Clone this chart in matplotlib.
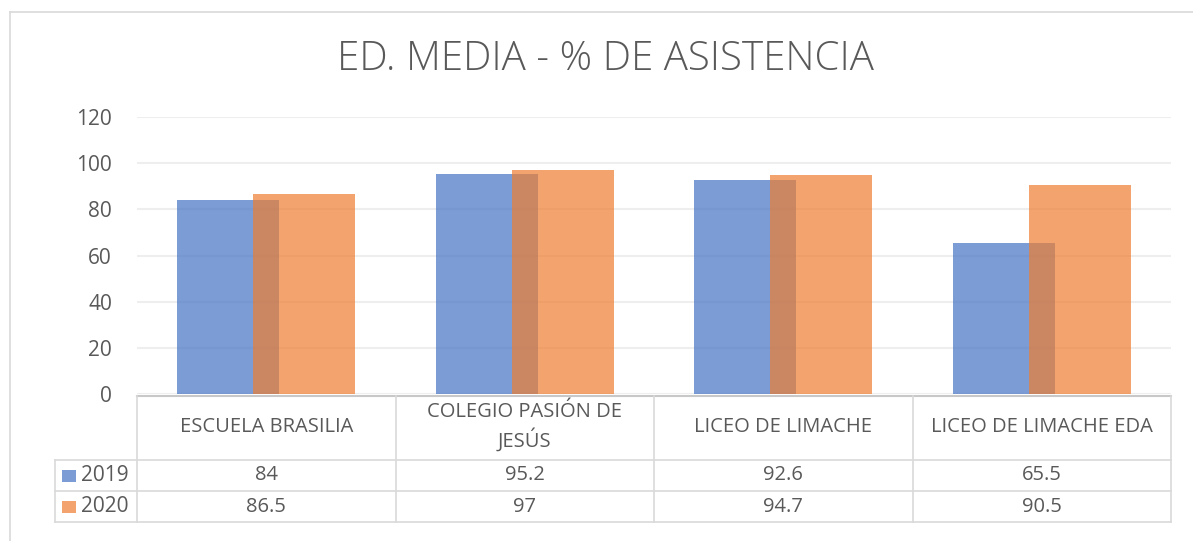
import matplotlib.pyplot as plt
from matplotlib.lines import Line2D
from matplotlib.patches import Rectangle
import numpy as np

# Dati
categorie = ["ESCUELA BRASILIA", "COLEGIO PASIÓN DE\nJESÚS", "LICEO DE LIMACHE", "LICEO DE LIMACHE EDA"]
anni = ["2019", "2020"]
valori_2019 = [84, 95.2, 92.6, 65.5]
valori_2020 = [86.5, 97, 94.7, 90.5]
etichette_2019 = ["84", "95.2", "92.6", "65.5"]
etichette_2020 = ["86.5", "97", "94.7", "90.5"]
yticks = [0, 20, 40, 60, 80, 100, 120]

W, H = 1193, 541
plt.rcParams['font.family'] = ['Open Sans', 'DejaVu Sans']
fig = plt.figure(figsize=(W / 100, H / 100), dpi=100)

testo = '#595959'
griglia = '#EEEEEE'
linea_tab = '#D9D9D9'
blu = '#4472C4'
arancio = '#ED7D31'

# pixel -> coordinate figura
def fx(x):
    return x / W

def fy(y):
    return 1 - y / H

# cornice esterna
fig.add_artist(Line2D([fx(10), fx(1193)], [fy(12), fy(12)], color='#D9D9D9', lw=1.2))
fig.add_artist(Line2D([fx(10), fx(10)], [fy(12), fy(541)], color='#D9D9D9', lw=1.2))

x0, x1 = 137, 1171
y0, y120 = 394, 117
ax = fig.add_axes([fx(x0), fy(y0), fx(x1) - fx(x0), fy(y120) - fy(y0)])

n = len(categorie)
x = np.arange(n)
larg = 0.394
off = 0.147
ax.bar(x - off, valori_2019, larg, color=blu, alpha=0.7, zorder=2)
ax.bar(x + off, valori_2020, larg, color=arancio, alpha=0.7, zorder=3)

ax.set_xlim(-0.5, n - 0.5)
ax.set_ylim(0, 120)
ax.set_yticks(yticks)
ax.set_yticklabels([str(v) for v in yticks], color=testo, fontsize=15)
ax.tick_params(axis='y', length=0, pad=18)
ax.set_xticks([])
ax.grid(axis='y', color=griglia, lw=1.5, zorder=0)
ax.set_axisbelow(True)
for s in ax.spines.values():
    s.set_visible(False)

fig.text(fx(605), fy(59), "ED. MEDIA - % DE ASISTENCIA", ha='center', va='center',
         fontsize=29, color=testo, fontweight='light')

# tabella dati
cat_w = (x1 - x0) / n
r_top, r_h, r_19, r_20, r_bot = 396, 460, 491, 522, 522
fig.add_artist(Line2D([fx(x0), fx(x1)], [fy(r_top), fy(r_top)], color='#C8C8C8', lw=1.5))
for yy in [r_h, r_19, r_20]:
    fig.add_artist(Line2D([fx(55), fx(x1)], [fy(yy), fy(yy)], color=linea_tab, lw=1.2))
for i in range(n + 1):
    xx = x0 + i * cat_w
    fig.add_artist(Line2D([fx(xx), fx(xx)], [fy(r_top), fy(r_bot)], color=linea_tab, lw=1.2))
fig.add_artist(Line2D([fx(55), fx(55)], [fy(r_h), fy(r_bot)], color=linea_tab, lw=1.2))

for i, c in enumerate(categorie):
    cx = x0 + (i + 0.5) * cat_w
    fig.text(fx(cx), fy((r_top + r_h) / 2 - 1), c, ha='center', va='center', fontsize=14.5,
             color=testo, linespacing=1.35)
    fig.text(fx(cx), fy((r_h + r_19) / 2), etichette_2019[i], ha='center', va='center',
             fontsize=14.5, color=testo)
    fig.text(fx(cx), fy((r_19 + r_20) / 2), etichette_2020[i], ha='center', va='center',
             fontsize=14.5, color=testo)

for j, (anno, col) in enumerate(zip(anni, [blu, arancio])):
    yc = (r_h + r_19) / 2 if j == 0 else (r_19 + r_20) / 2
    fig.add_artist(Rectangle((fx(62), fy(yc + 6)), fx(14), fy(0) - fy(12), color=col, alpha=0.7,
                             lw=0))
    fig.text(fx(81), fy(yc), anno, ha='left', va='center', fontsize=15, color=testo)

fig.savefig('out.png', dpi=100)
